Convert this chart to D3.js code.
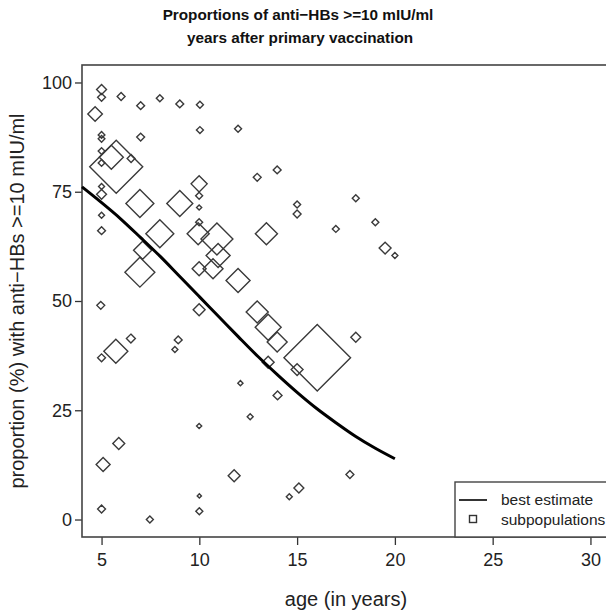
<!DOCTYPE html>
<html>
<head>
<meta charset="utf-8">
<script src="https://cdn.jsdelivr.net/npm/d3@7"></script>
<style>
  body { margin: 0; background: #fff; }
  svg { display: block; font-family: "Liberation Sans", Arial, sans-serif; }
</style>
</head>
<body>
<div id="chart"></div>
<script>
// best estimate curve (age in years, proportion %)
const curveAges = [4, 5, 6, 7, 8, 9, 10, 11, 12, 13, 14, 15, 16, 17, 18, 19, 20];
const curveProps = [76.1, 72.5, 68.7, 64.5, 60.2, 55.6, 51.0, 46.4, 41.8, 37.3, 33.1, 29.1, 25.4, 22.1, 19.0, 16.3, 13.9];

// subpopulations: age, proportion, relative size
const subAges = [5.0, 5.0, 4.67, 5.0, 5.0, 5.0, 5.0, 5.75, 5.5, 6.51, 6.0, 7.0, 7.0, 7.98, 9.0, 10.03, 10.03, 11.98,
  5.0, 5.0, 5.0, 5.0, 6.96, 9.0, 9.99, 9.99, 9.99, 9.99, 12.96, 7.98, 9.94, 10.9, 10.96, 9.99, 10.7, 11.98, 13.43,
  7.1, 6.96, 9.99, 8.92, 8.75, 12.96, 13.52, 13.98, 13.52, 16.03, 15.0, 18.0, 12.1, 14.0, 12.6, 9.99, 4.96, 6.5,
  5.73, 5.0, 5.88, 5.08, 5.0, 7.47, 10.0, 10.0, 11.78, 14.6, 15.09, 13.98, 15.0, 15.0, 16.98, 18.0, 19.0, 19.5,
  20.0, 17.7];
const subProps = [98.4, 96.6, 92.8, 88.0, 87.1, 84.3, 81.6, 80.7, 82.9, 82.6, 96.8, 94.7, 87.5, 96.4, 95.1, 94.9, 89.1, 89.4,
  76.2, 74.4, 69.6, 66.1, 72.3, 72.3, 76.8, 74.1, 71.4, 68.0, 78.3, 65.4, 65.4, 64.2, 60.4, 57.4, 57.4, 54.7, 65.4,
  61.6, 56.6, 48.0, 41.1, 38.9, 47.5, 44.0, 40.6, 36.0, 37.0, 34.3, 41.7, 31.2, 28.4, 23.5, 21.4, 49.0, 41.4,
  38.5, 37.0, 17.4, 12.6, 2.4, 0.0, 1.9, 5.4, 10.0, 5.2, 7.2, 80.0, 72.1, 69.9, 66.5, 73.5, 68.0, 62.1,
  60.4, 10.3];
const subSizes = [11, 7, 24, 5, 5, 5, 5, 317, 65, 7, 7, 7, 7, 5.5, 7, 5.5, 5.5, 5.5,
  4, 11, 4, 7, 88, 76, 29, 5.5, 3, 5.5, 7, 88, 55, 115, 65, 22, 45, 65, 55,
  37, 101, 16, 7, 4, 55, 76, 45, 16, 500, 16, 11, 3, 9, 4, 3, 7, 9,
  65, 7, 16, 22, 7, 5.5, 5.5, 2, 16, 4, 11, 7, 5.5, 7, 5.5, 5.5, 5.5, 16,
  4, 7];

const xTicks = [5, 10, 15, 20, 25, 30];
const yTicks = [0, 25, 50, 75, 100];

const W = 606, H = 613;
const plot = {left: 82, top: 65, right: 610, bottom: 537};

const svg = d3.select("#chart").append("svg")
  .attr("width", W).attr("height", H);

const x = d3.scaleLinear().domain([4, 31]).range([plot.left, plot.right]);
const y = d3.scaleLinear().domain([-4, 104]).range([plot.bottom, plot.top]);
const area = d3.scaleLinear().domain([0, 500]).range([0, 2 * 33.3 * 33.3]);

const diamond = {
  draw(ctx, size) {
    const r = Math.sqrt(size / 2);
    ctx.moveTo(0, -r);
    ctx.lineTo(r, 0);
    ctx.lineTo(0, r);
    ctx.lineTo(-r, 0);
    ctx.closePath();
  }
};

//Axes
svg.append("g")
  .attr("transform", `translate(0, ${plot.bottom})`)
  .call(d3.axisBottom(x).tickValues(xTicks).tickSize(8).tickPadding(8))
  .call(g => g.select(".domain").remove())
  .call(g => g.selectAll("line").attr("stroke", "#333").attr("stroke-width", 1.3))
  .call(g => g.selectAll("text").attr("font-size", 18).attr("fill", "#222")
    .attr("font-family", "Liberation Sans, Arial, sans-serif"));

svg.append("g")
  .attr("transform", `translate(${plot.left}, 0)`)
  .call(d3.axisLeft(y).tickValues(yTicks).tickSize(7).tickPadding(3))
  .call(g => g.select(".domain").remove())
  .call(g => g.selectAll("line").attr("stroke", "#333").attr("stroke-width", 1.3))
  .call(g => g.selectAll("text").attr("font-size", 18).attr("fill", "#222")
    .attr("font-family", "Liberation Sans, Arial, sans-serif"));

//Plot box
svg.append("rect")
  .attr("x", plot.left).attr("y", plot.top)
  .attr("width", plot.right - plot.left).attr("height", plot.bottom - plot.top)
  .attr("fill", "none").attr("stroke", "#444").attr("stroke-width", 1.6);

//Subpopulation diamonds
const subs = subAges.map((a, i) => ({age: a, prop: subProps[i], n: subSizes[i]}));
svg.append("g")
  .selectAll("path")
  .data(subs)
  .enter().append("path")
  .attr("transform", d => `translate(${x(d.age)}, ${y(d.prop)})`)
  .attr("d", d => d3.symbol().type(diamond).size(area(d.n))())
  .attr("fill", "none")
  .attr("stroke", "#3a3a3a")
  .attr("stroke-width", 1.4);

//Best estimate line
const line = d3.line().x(d => x(d[0])).y(d => y(d[1])).curve(d3.curveMonotoneX);
svg.append("path")
  .datum(curveAges.map((a, i) => [a, curveProps[i]]))
  .attr("d", line)
  .attr("fill", "none")
  .attr("stroke", "#000")
  .attr("stroke-width", 3);

//Title
svg.append("text")
  .attr("x", 298).attr("y", 20)
  .attr("text-anchor", "middle")
  .attr("font-size", 15.3).attr("font-weight", "bold").attr("fill", "#111")
  .text("Proportions of anti\u2212HBs >=10 mIU/ml");
svg.append("text")
  .attr("x", 300).attr("y", 43)
  .attr("text-anchor", "middle")
  .attr("font-size", 15.3).attr("font-weight", "bold").attr("fill", "#111")
  .text("years after primary vaccination");

//Axis titles
svg.append("text")
  .attr("x", (plot.left + plot.right) / 2).attr("y", 606)
  .attr("text-anchor", "middle")
  .attr("font-size", 20).attr("fill", "#222")
  .text("age (in years)");
svg.append("text")
  .attr("transform", `translate(24, ${(plot.top + plot.bottom) / 2}) rotate(-90)`)
  .attr("text-anchor", "middle")
  .attr("font-size", 20).attr("fill", "#222")
  .text("proportion (%) with anti\u2212HBs >=10 mIU/ml");

//Legend
const legend = svg.append("g");
legend.append("rect")
  .attr("x", 455).attr("y", 482)
  .attr("width", 170).attr("height", plot.bottom - 482)
  .attr("fill", "#fff").attr("stroke", "#444").attr("stroke-width", 1.4);
legend.append("line")
  .attr("x1", 459).attr("x2", 487).attr("y1", 500).attr("y2", 500)
  .attr("stroke", "#000").attr("stroke-width", 1.6);
legend.append("rect")
  .attr("x", 469.5).attr("y", 515.5).attr("width", 7).attr("height", 7)
  .attr("fill", "none").attr("stroke", "#333").attr("stroke-width", 1.4);
legend.append("text")
  .attr("x", 501).attr("y", 505)
  .attr("font-size", 15.5).attr("fill", "#222")
  .text("best estimate");
legend.append("text")
  .attr("x", 501).attr("y", 524.5)
  .attr("font-size", 15.5).attr("fill", "#222")
  .text("subpopulations");
</script>
</body>
</html>
